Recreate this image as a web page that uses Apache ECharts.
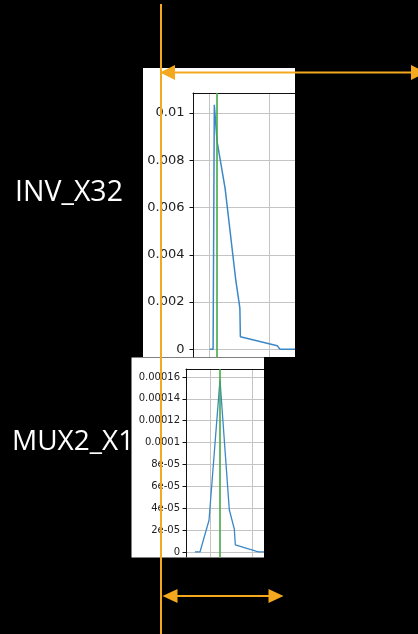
<!DOCTYPE html>
<html>
<head>
<meta charset="utf-8">
<script src="https://cdn.jsdelivr.net/npm/echarts@6/dist/echarts.min.js"></script>
<style>
  html, body { margin: 0; padding: 0; background: #000; }
  #chart { width: 418px; height: 634px; }
</style>
</head>
<body>
<div id="chart"></div>
<script>
// INV_X32 supply current trace (time in grid units, current in A)
const invTime    = [1.01, 1.067, 1.087, 1.112, 1.133, 1.267, 1.445, 1.512, 1.52, 2.133, 2.178, 2.428];
const invCurrent = [0, 0, 0.01035, 0.01035, 0.0088, 0.0068, 0.0029, 0.00174, 0.00053, 0.00015, 0, 0];
const invMarker  = 1.123;
const invGridX   = [1, 2];
const invTicks   = [0, 0.002, 0.004, 0.006, 0.008, 0.01];
const invTickLabels = ['0', '0.002', '0.004', '0.006', '0.008', '0.01'];

// MUX2_X1 supply current trace
const muxTime    = [0.626, 0.745, 0.96, 1.221, 1.443, 1.562, 1.586, 2.095, 2.15, 2.269];
const muxCurrent = [0, 0, 2.9e-5, 1.574e-4, 3.86e-5, 2.1e-5, 6.4e-6, 5e-7, 0, 0];
const muxMarker  = 1.221;
const muxGridX   = [1, 2];
const muxTicks   = [0, 2e-5, 4e-5, 6e-5, 8e-5, 1e-4, 1.2e-4, 1.4e-4, 1.6e-4];
const muxTickLabels = ['0', '2e-05', '4e-05', '6e-05', '8e-05', '0.0001', '0.00012', '0.00014', '0.00016'];

const BLUE = '#3c88c6';
const GREEN = '#46a846';
const GRID = '#c4c4c4';
const ORANGE = '#f4a81d';

const zip = (xs, ys) => xs.map((x, i) => [x, ys[i]]);
const labelFor = (ticks, labels) => v => {
  const i = ticks.findIndex(t => Math.abs(t - v) < 1e-12);
  return i >= 0 ? labels[i] : '';
};

function xAxisFor(gridIndex, min, max, gridX) {
  return {
    type: 'value', gridIndex, min, max, position: 'top',
    axisLine: { show: true, onZero: false, lineStyle: { color: '#111', width: 1 } },
    axisTick: { show: false, customValues: gridX },
    axisLabel: { show: false, customValues: gridX },
    splitLine: { show: true, lineStyle: { color: GRID, width: 1 } }
  };
}
function yAxisFor(gridIndex, min, max, ticks, labels, fontSize, margin) {
  return {
    type: 'value', gridIndex, min, max,
    axisLine: { show: true, onZero: false, lineStyle: { color: '#111', width: 1 } },
    axisTick: { show: true, length: 3.5, customValues: ticks, lineStyle: { color: '#111' } },
    axisLabel: {
      show: true, customValues: ticks, margin,
      color: '#222', fontFamily: 'DejaVu Sans', fontSize,
      formatter: labelFor(ticks, labels)
    },
    splitLine: { show: true, lineStyle: { color: GRID, width: 1 } }
  };
}
function markerLine(x) {
  return {
    silent: true, symbol: 'none', label: { show: false },
    lineStyle: { color: GREEN, width: 1.6, type: 'solid' },
    data: [{ xAxis: x }]
  };
}

const chart = echarts.init(document.getElementById('chart'), null, { renderer: 'canvas' });
chart.setOption({
  backgroundColor: '#000',
  animation: false,
  grid: [
    { left: 193, top: 93, right: 123, bottom: 277 },
    { left: 186, top: 369, right: 154, bottom: 77 }
  ],
  xAxis: [
    xAxisFor(0, 0.733, 2.428, invGridX),
    xAxisFor(1, 0.412, 2.269, muxGridX)
  ],
  yAxis: [
    yAxisFor(0, -0.00033, 0.01085, invTicks, invTickLabels, 13, 8.5),
    yAxisFor(1, -4.6e-6, 1.673e-4, muxTicks, muxTickLabels, 10, 6)
  ],
  series: [
    {
      type: 'line', xAxisIndex: 0, yAxisIndex: 0, data: zip(invTime, invCurrent),
      showSymbol: false, lineStyle: { color: BLUE, width: 1.5 }, z: 3,
      markLine: markerLine(invMarker)
    },
    {
      type: 'line', xAxisIndex: 1, yAxisIndex: 1, data: zip(muxTime, muxCurrent),
      showSymbol: false, lineStyle: { color: BLUE, width: 1.3 }, z: 3,
      markLine: markerLine(muxMarker)
    }
  ],
  graphic: [
    // white plot backgrounds and row captions
    { type: 'rect', z: -10, shape: { x: 143, y: 68, width: 152, height: 289 }, style: { fill: '#fff' } },
    { type: 'text', z: -20, left: 12, top: 428, style: { text: 'MUX2_X1', fill: '#fff', font: '28px "Open Sans"' } },
    { type: 'rect', z: -5, shape: { x: 131.5, y: 357.5, width: 132.5, height: 200 }, style: { fill: '#fff' } },
    { type: 'text', z: -20, left: 15, top: 178, style: { text: 'INV_X32', fill: '#fff', font: '28.5px "Open Sans"' } },
    // orange guides
    { type: 'line', z: 100, shape: { x1: 161, y1: 4, x2: 161, y2: 634 }, style: { stroke: ORANGE, lineWidth: 2 } },
    { type: 'line', z: 100, shape: { x1: 170, y1: 72.5, x2: 418, y2: 72.5 }, style: { stroke: ORANGE, lineWidth: 2 } },
    { type: 'polygon', z: 100, shape: { points: [[160, 72.5], [175, 65], [175, 80]] }, style: { fill: ORANGE } },
    { type: 'polygon', z: 100, shape: { points: [[426, 72.5], [411, 65], [411, 80]] }, style: { fill: ORANGE } },
    { type: 'line', z: 100, shape: { x1: 170, y1: 596, x2: 276, y2: 596 }, style: { stroke: ORANGE, lineWidth: 2 } },
    { type: 'polygon', z: 100, shape: { points: [[162.5, 596], [177.5, 589], [177.5, 603]] }, style: { fill: ORANGE } },
    { type: 'polygon', z: 100, shape: { points: [[283.5, 596], [268.5, 589], [268.5, 603]] }, style: { fill: ORANGE } }
  ]
});
</script>
</body>
</html>
